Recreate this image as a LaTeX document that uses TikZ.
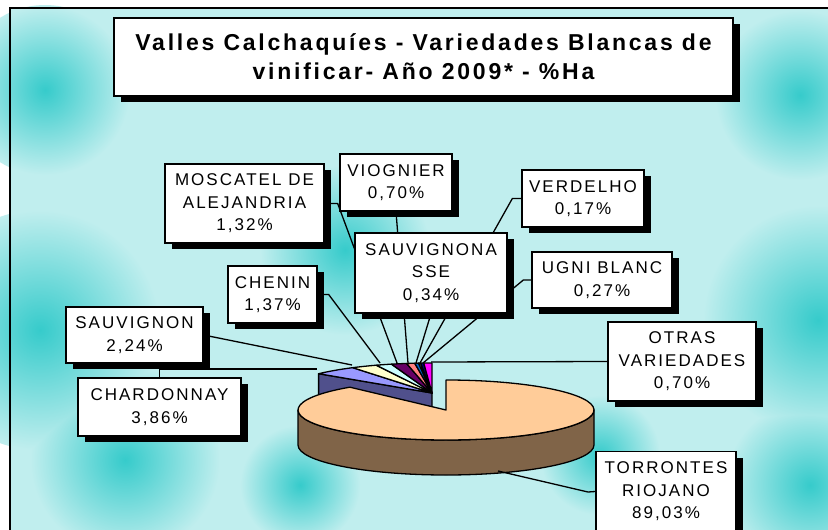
\documentclass[tikz,border=0pt]{standalone}
\usepackage{fontspec}
\setmainfont{Liberation Sans}
\newfontfamily\chartfont[LetterSpace=12]{Liberation Sans}
\usetikzlibrary{shadows,calc}
\definecolor{bgLight}{HTML}{C0EEEE}
\definecolor{bgDark}{HTML}{36CBCB}
\definecolor{torrTop}{HTML}{FFCC99}
\definecolor{torrSide}{HTML}{806448}
\definecolor{chardFace}{HTML}{50508C}
\pgfdeclarelayer{back}
\pgfdeclarelayer{mid}
\pgfsetlayers{back,mid,main}
\tikzset{
  label box/.style={draw, fill=white, line width=1.3pt, inner sep=0pt, align=center,
    font=\chartfont\fontsize{17}{22.5}\selectfont,
    drop shadow={shadow xshift=7pt, shadow yshift=-6pt, fill=black, opacity=1}},
  leader/.style={line width=1.3pt},
  slice/.style={draw, line width=1.3pt, line join=round},
}
\begin{document}
\begin{tikzpicture}[x=1pt,y=1pt]
  \useasboundingbox (0,0) rectangle (828,-530);
  % pie centres
  \coordinate (T) at (446,-410);
  \coordinate (S) at (432,-393);
  % leader ends on the pie
  \coordinate (pChar) at (317,-369);
  \coordinate (pSauv) at (352,-365);
  \coordinate (pChen) at (380,-363);
  \coordinate (pMosc) at (397,-363);
  \coordinate (pViog) at (408,-363);
  \coordinate (pSse) at (416,-363);
  \coordinate (pVerd) at (420,-363);
  \coordinate (pUgni) at (423,-363);
  \coordinate (pOtras) at (431,-362);
  \coordinate (pTorr) at (498,-471);

  \begin{pgfonlayer}{back}
    \fill[white] (0,0) rectangle (828,-530);
    \fill[bgLight] (10,-8) rectangle (828,-530);
    \begin{scope}[blend mode=darken]
      \foreach \x/\y/\r in {40/330/120, 45/90/85, 125/460/95, 345/250/85,
          818/320/115, 800/95/85, 810/485/85, 300/485/60, 600/455/60}
        \shade[inner color=bgDark, outer color=bgLight] (\x,-\y) circle (\r);
    \end{scope}
    \draw[line width=2pt] (10,-530) -- (10,-8) -- (828,-8);

    % small slices, behind
    \filldraw[slice, fill=chardFace] (S) -- ++(140:148 and 30) -- ++(0,-35)
      -- ($(S)+(0,-35)$) -- cycle;
    \foreach \a/\b/\c in {140/122.4/9999FF, 122.4/112.1/FFFFCC, 112.1/105.9/CCFFFF,
        105.9/99.9/660066, 99.9/96.7/FF8080, 96.7/95.2/0066CC, 95.2/94.4/CCCCFF,
        94.4/93.2/000080, 93.2/90/FF00FF}{
      \definecolor{slc}{HTML}{\c}
      \filldraw[slice, fill=slc] (S) -- ++(\a:148 and 30)
        arc[start angle=\a, end angle=\b, x radius=148, y radius=30] -- cycle;
    }
    % torrontes
    \filldraw[slice, fill=torrSide] ($(T)+(-148,0)$)
      arc[start angle=180, end angle=360, x radius=148, y radius=30] -- ++(0,-35)
      arc[start angle=360, end angle=180, x radius=148, y radius=30] -- cycle;
    \filldraw[slice, fill=torrTop] (T) -- ++(130.5:148 and 30)
      arc[start angle=130.5, end angle=450, x radius=148, y radius=30] -- cycle;
  \end{pgfonlayer}

  \node[label box, font=\chartfont\bfseries\fontsize{23}{29}\selectfont,
    minimum width=619pt, minimum height=78pt] (title) at (423.5,-57)
    {Valles Calchaquíes - Variedades Blancas de\\vinificar- Año 2009* - \%Ha};

  \node[label box, minimum width=159pt, minimum height=79pt] (mosc) at (244.5,-203.5)
    {MOSCATEL DE\\ALEJANDRIA\\1,32\%};
  \node[label box, minimum width=112pt, minimum height=57pt] (viog) at (396,-182.5)
    {VIOGNIER\\0,70\%};
  \node[label box, minimum width=152pt, minimum height=80pt] (sse) at (431,-273)
    {SAUVIGNONA\\SSE\\0,34\%};
  \node[label box, minimum width=89pt, minimum height=57pt] (chen) at (272.5,-294.5)
    {CHENIN\\1,37\%};
  \node[label box, minimum width=137pt, minimum height=56pt] (sauv) at (134.5,-335)
    {SAUVIGNON\\2,24\%};
  \node[label box, minimum width=163pt, minimum height=58pt] (chard) at (159.5,-407)
    {CHARDONNAY\\3,86\%};
  \node[label box, minimum width=122pt, minimum height=57pt] (verd) at (583,-198.5)
    {VERDELHO\\0,17\%};
  \node[label box, minimum width=140pt, minimum height=56pt] (ugni) at (602,-280)
    {UGNI BLANC\\0,27\%};
  \node[label box, minimum width=148pt, minimum height=79pt] (otras) at (682,-361.5)
    {OTRAS\\VARIEDADES\\0,70\%};
  \node[label box, minimum width=140pt, minimum height=80pt] (torr) at (666,-491.5)
    {TORRONTES\\RIOJANO\\89,03\%};

  \begin{pgfonlayer}{mid}
    \draw[leader] (chard.north) |- (pChar);
    \draw[leader] (sauv.east) -- (pSauv);
    \draw[leader] (chen.east) -- ++(11,0) -- (pChen);
    \draw[leader] (mosc.east) -- ++(13,0) -- (pMosc);
    \draw[leader] (viog.south) -- (pViog);
    \draw[leader] (sse.south) -- (pSse);
    \draw[leader] (verd.west) -- ++(-9,0) -- (pVerd);
    \draw[leader] (ugni.west) -- ++(-8,0) -- (pUgni);
    \draw[leader] (otras.west) -- (pOtras);
    \draw[leader] (pTorr) -- ++(90,-21) -- (torr.west);
  \end{pgfonlayer}
\end{tikzpicture}
\end{document}
